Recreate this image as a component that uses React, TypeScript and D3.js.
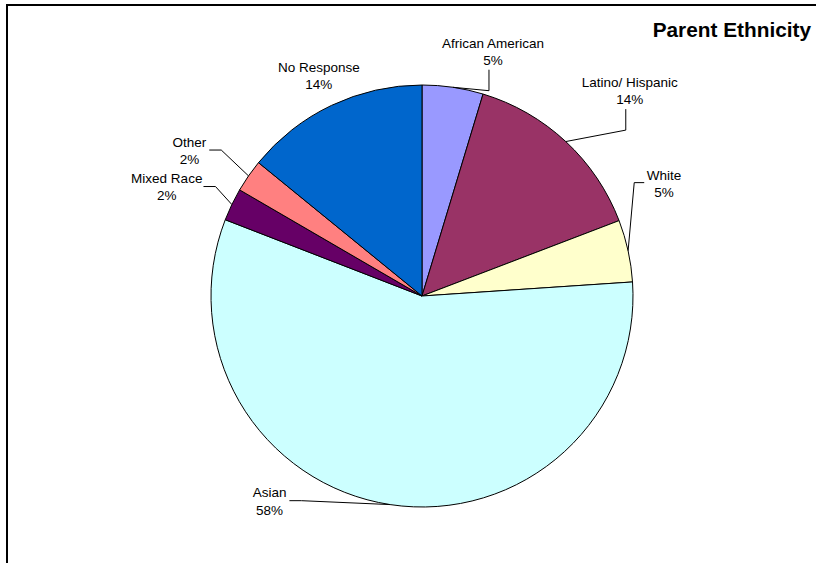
import React from 'react';
import * as d3 from 'd3';

// slice data, clockwise from 12 o'clock
const categories = ['African American', 'Latino/ Hispanic', 'White', 'Asian', 'Mixed Race', 'Other', 'No Response'];
const shares = [4.67, 14.5, 4.75, 56.9, 2.5, 2.5, 14.1];
const shownPercents = [5, 14, 5, 58, 2, 2, 14];
const sliceColors = ['#9999FF', '#993366', '#FFFFCC', '#CCFFFF', '#660066', '#FF8080', '#0066CC'];

// where each label sits: angle (deg, clockwise from top) and distance from the centre
const labelAngles = [16.2, 45.4, 65.2, 216.6, 293.1, 302.0, 334.9];
const labelRadii = [254.4, 291.8, 266.7, 255.7, 277.5, 274.3, 243.2];
// how the leader line leaves the label
const leaderKinds = ['below', 'below', 'left', 'right', 'right', 'right', 'none'];

const W = 816;
const H = 563;
const cx = 422;
const cy = 296;
const radius = 211;
const font = 'Arial, "Liberation Sans", sans-serif';
const labelSize = 13.5;

export default function App() {
  const data = categories.map((name, i) => ({ name, value: shares[i], pct: shownPercents[i] }));

  const pie = d3.pie<any>().value(d => d.value).sort(null);
  const arcs = pie(data);
  const arc = d3.arc<any>().innerRadius(0).outerRadius(radius);
  const edge = d3.arc<any>().innerRadius(radius).outerRadius(radius);

  // rough text width, good enough to hang the leader off the label's side
  const measure = (s: string) => s.length * labelSize * 0.5;

  return (
    <svg width={W} height={H} style={{ position: 'absolute', left: 0, top: 0, display: 'block' }}>
      <rect x={0} y={0} width={W} height={H} fill="#fff" />
      <rect x={7} y={5} width={900} height={700} fill="none" stroke="#000" strokeWidth={2} />

      <g transform={`translate(${cx},${cy})`}>
        {arcs.map((d, i) => (
          <path key={i} d={arc(d) as string} fill={sliceColors[i]} stroke="#000" strokeWidth={1} />
        ))}

        {arcs.map((d, i) => {
          const a = (labelAngles[i] * Math.PI) / 180;
          const lx = labelRadii[i] * Math.sin(a);
          const ly = -labelRadii[i] * Math.cos(a);
          const [ex, ey] = edge.centroid(d);
          const kind = leaderKinds[i];
          const w = Math.max(measure(d.data.name), 20);
          let pts: [number, number][] = [];
          if (kind === 'below') {
            const sx = lx - 4;
            pts = [[sx, ly + 18], [sx, ly + 39], [ex, ey]];
          } else if (kind === 'left') {
            const sx = lx - w / 2 - 3;
            pts = [[sx, ly - 1.5], [sx - 10, ly - 1.5], [ex, ey]];
          } else if (kind === 'right') {
            const sx = lx + w / 2 + 3;
            pts = [[sx, ly - 0.6], [sx + 12, ly - 0.6], [ex, ey]];
          }
          return (
            <g key={i}>
              {pts.length > 0 && (
                <polyline points={pts.map(p => p.join(',')).join(' ')} fill="none" stroke="#000" strokeWidth={1} />
              )}
              <text x={lx} y={ly - 4} textAnchor="middle" fontFamily={font} fontSize={labelSize} fill="#000">
                {d.data.name}
              </text>
              <text x={lx} y={ly + 13.3} textAnchor="middle" fontFamily={font} fontSize={labelSize} fill="#000">
                {`${d.data.pct}%`}
              </text>
            </g>
          );
        })}
      </g>

      <text x={811} y={36.5} textAnchor="end" fontFamily={font} fontSize={20.8} fontWeight="bold" fill="#000">
        Parent Ethnicity
      </text>
    </svg>
  );
}
